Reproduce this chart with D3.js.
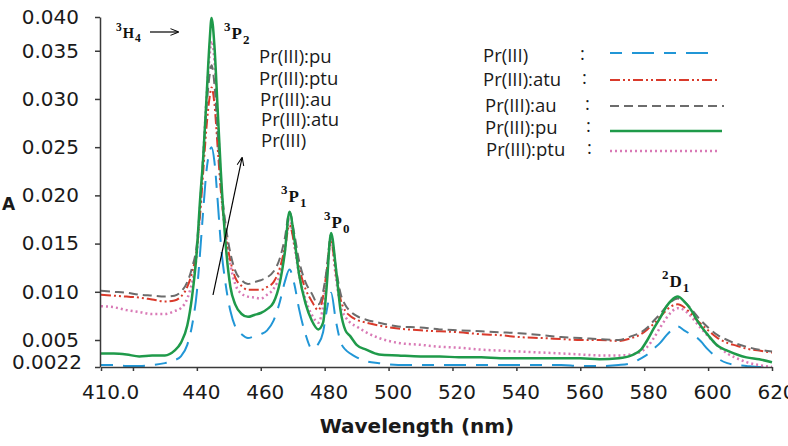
<!DOCTYPE html>
<html>
<head>
<meta charset="utf-8">
<script src="https://cdn.jsdelivr.net/npm/d3@7"></script>
<style>
  body { margin: 0; background: #fff; }
  svg { display: block; }
</style>
</head>
<body>
<div id="chart"></div>
<script>
// wavelength grid (nm) shared by all spectra
let wavelengths = [410, 414, 418, 422, 426, 430, 433, 435, 437, 438.5,
  440, 441, 442, 443, 444, 444.6, 445.5, 446.5, 447.5, 449,
  450.5, 452, 454, 456, 458, 460, 462, 464, 466, 467.5,
  469, 470.5, 472, 474, 476, 478, 479.5, 480.5, 482, 483.5,
  485, 486.5, 488, 490, 493, 497, 503, 510, 516, 522,
  529, 535, 541, 548, 554, 560, 566, 572, 576, 579,
  581, 583, 585, 587, 588.5, 590.5, 592.5, 594.5, 597, 600,
  603, 606, 609, 612, 616, 620]

let prIII = [0.0024, 0.0024, 0.0023, 0.0023, 0.0024, 0.0026, 0.0029, 0.0033, 0.0045, 0.0065,
  0.0100, 0.0140, 0.0185, 0.0225, 0.0246, 0.0250, 0.0235, 0.0195, 0.0150, 0.0108,
  0.0080, 0.0064, 0.0056, 0.0052, 0.0054, 0.0056, 0.0060, 0.0070, 0.0090, 0.0110,
  0.0123, 0.0108, 0.0082, 0.0056, 0.0041, 0.0046, 0.0058, 0.0078, 0.0099, 0.0070,
  0.0048, 0.0040, 0.0036, 0.0032, 0.0028, 0.0026, 0.0024, 0.0024, 0.0024, 0.0024,
  0.0024, 0.0024, 0.0024, 0.0024, 0.0024, 0.0023, 0.0023, 0.0024, 0.0026, 0.0031,
  0.0035, 0.0041, 0.0047, 0.0055, 0.0060, 0.0064, 0.0060, 0.0056, 0.0051, 0.0040,
  0.0031, 0.0026, 0.0024, 0.0023, 0.0022, 0.0022]

let prAtu = [0.0097, 0.0096, 0.0095, 0.0094, 0.0092, 0.0090, 0.0091, 0.0095, 0.0105, 0.0120,
  0.0145, 0.0180, 0.0225, 0.0270, 0.0302, 0.0312, 0.0295, 0.0250, 0.0205, 0.0160,
  0.0132, 0.0115, 0.0106, 0.0102, 0.0102, 0.0102, 0.0105, 0.0110, 0.0125, 0.0145,
  0.0169, 0.0150, 0.0125, 0.0103, 0.0090, 0.0081, 0.0095, 0.0118, 0.0152, 0.0120,
  0.0092, 0.0080, 0.0075, 0.0071, 0.0068, 0.0065, 0.0062, 0.0060, 0.0059, 0.0058,
  0.0056, 0.0055, 0.0053, 0.0052, 0.0051, 0.0050, 0.0050, 0.0049, 0.0052, 0.0056,
  0.0061, 0.0067, 0.0074, 0.0081, 0.0085, 0.0087, 0.0084, 0.0078, 0.0069, 0.0060,
  0.0052, 0.0047, 0.0044, 0.0041, 0.0039, 0.0037]

let prAu = [0.0101, 0.0100, 0.0099, 0.0097, 0.0096, 0.0095, 0.0096, 0.0100, 0.0110, 0.0125,
  0.0150, 0.0190, 0.0240, 0.0290, 0.0325, 0.0335, 0.0315, 0.0265, 0.0215, 0.0170,
  0.0140, 0.0122, 0.0112, 0.0108, 0.0110, 0.0112, 0.0115, 0.0121, 0.0135, 0.0155,
  0.0183, 0.0160, 0.0132, 0.0110, 0.0098, 0.0087, 0.0100, 0.0120, 0.0159, 0.0125,
  0.0098, 0.0086, 0.0080, 0.0075, 0.0071, 0.0068, 0.0064, 0.0063, 0.0061, 0.0060,
  0.0059, 0.0058, 0.0057, 0.0055, 0.0053, 0.0052, 0.0051, 0.0050, 0.0054, 0.0058,
  0.0063, 0.0070, 0.0077, 0.0085, 0.0090, 0.0093, 0.0090, 0.0083, 0.0073, 0.0063,
  0.0055, 0.0050, 0.0046, 0.0043, 0.0040, 0.0038]

let prPu = [0.0036, 0.0036, 0.0035, 0.0033, 0.0034, 0.0034, 0.0039, 0.0047, 0.0065, 0.0095,
  0.0143, 0.0195, 0.0240, 0.0300, 0.0360, 0.0384, 0.0355, 0.0290, 0.0225, 0.0150,
  0.0105, 0.0087, 0.0077, 0.0074, 0.0076, 0.0078, 0.0082, 0.0089, 0.0110, 0.0140,
  0.0183, 0.0155, 0.0118, 0.0088, 0.0070, 0.0061, 0.0068, 0.0100, 0.0161, 0.0125,
  0.0080, 0.0060, 0.0054, 0.0045, 0.0040, 0.0035, 0.0034, 0.0033, 0.0033, 0.0032,
  0.0032, 0.0031, 0.0031, 0.0031, 0.0031, 0.0031, 0.0030, 0.0031, 0.0034, 0.0040,
  0.0050, 0.0062, 0.0073, 0.0085, 0.0091, 0.0095, 0.0090, 0.0082, 0.0068, 0.0055,
  0.0044, 0.0039, 0.0035, 0.0032, 0.0030, 0.0027]

let prPtu = [0.0085, 0.0084, 0.0081, 0.0079, 0.0077, 0.0077, 0.0080, 0.0083, 0.0093, 0.0110,
  0.0140, 0.0185, 0.0240, 0.0300, 0.0345, 0.0360, 0.0340, 0.0280, 0.0215, 0.0160,
  0.0128, 0.0108, 0.0098, 0.0095, 0.0094, 0.0093, 0.0097, 0.0103, 0.0118, 0.0142,
  0.0175, 0.0148, 0.0118, 0.0092, 0.0076, 0.0068, 0.0085, 0.0112, 0.0154, 0.0115,
  0.0085, 0.0074, 0.0068, 0.0064, 0.0058, 0.0052, 0.0047, 0.0045, 0.0043, 0.0042,
  0.0040, 0.0039, 0.0038, 0.0037, 0.0036, 0.0035, 0.0034, 0.0034, 0.0035, 0.0038,
  0.0043, 0.0052, 0.0063, 0.0073, 0.0079, 0.0083, 0.0081, 0.0075, 0.0065, 0.0054,
  0.0044, 0.0036, 0.0031, 0.0027, 0.0024, 0.0022]

let seriesNames = ['Pr(III)', 'Pr(III):atu', 'Pr(III):au', 'Pr(III):pu', 'Pr(III):ptu']
let stackLabels = ['Pr(III):pu', 'Pr(III):ptu', 'Pr(III):au', 'Pr(III):atu', 'Pr(III)']

// the top tick of the original sits off the regular spacing, labelled 0.040
let yTickValues = [0.0022, 0.005, 0.010, 0.015, 0.020, 0.025, 0.030, 0.035, 0.0385]
let yTickLabels = ['0.0022', '0.005', '0.010', '0.015', '0.020', '0.025', '0.030', '0.035', '0.040']
let xTickValues = [410, 420, 440, 460, 480, 500, 520, 540, 560, 580, 600, 620]
let xTickLabels = ['410.0', '', '440', '460', '480', '500', '520', '540', '560', '580', '600', '620']

let width = 788
let height = 446
let axisColor = '#3a3a3a'
let tickFont = 'DejaVu Sans, sans-serif'
let noteFont = 'Open Sans, sans-serif'
let termFont = 'Liberation Serif, serif'

let styles = {
  'Pr(III)': { color: '#2196d6', dash: '12,10,22,10', width: 2 },
  'Pr(III):atu': { color: '#d93a2b', dash: '10,3,2,3,2,3', width: 2 },
  'Pr(III):au': { color: '#6c6c6c', dash: '9,5', width: 2 },
  'Pr(III):pu': { color: '#1f9a4a', dash: null, width: 2.5 },
  'Pr(III):ptu': { color: '#d97ab6', dash: '2,3', width: 2.5 }
}
let seriesValues = {
  'Pr(III)': prIII,
  'Pr(III):atu': prAtu,
  'Pr(III):au': prAu,
  'Pr(III):pu': prPu,
  'Pr(III):ptu': prPtu
}

let x = d3.scaleLinear().domain([410, 620]).range([101, 772])
let y = d3.scaleLinear().domain([0.0022, 0.0385]).range([367, 17])

let svg = d3.select('#chart').append('svg')
    .attr('width', width)
    .attr('height', height)
    .style('background', '#fff')

let defs = svg.append('defs')
defs.append('clipPath').attr('id', 'plot-clip')
  .append('rect')
    .attr('x', 101).attr('y', 10)
    .attr('width', 672).attr('height', 357)
defs.append('marker')
    .attr('id', 'arrow')
    .attr('viewBox', '0 0 10 10')
    .attr('refX', 9).attr('refY', 5)
    .attr('markerWidth', 7).attr('markerHeight', 7)
    .attr('orient', 'auto')
  .append('path')
    .attr('d', 'M0,1 L10,5 L0,9')
    .attr('fill', 'none')
    .attr('stroke', '#000')
    .attr('stroke-width', 1.2)

// spectra
let line = d3.line()
    .x((d, i) => x(wavelengths[i]))
    .y(d => y(d))
    .curve(d3.curveMonotoneX)

let drawOrder = ['Pr(III)', 'Pr(III):ptu', 'Pr(III):atu', 'Pr(III):au', 'Pr(III):pu']
let plot = svg.append('g').attr('clip-path', 'url(#plot-clip)')
drawOrder.forEach(name => {
  let s = styles[name]
  plot.append('path')
      .datum(seriesValues[name])
      .attr('d', line)
      .attr('fill', 'none')
      .attr('stroke', s.color)
      .attr('stroke-width', s.width)
      .attr('stroke-dasharray', s.dash)
      .attr('stroke-linejoin', 'round')
})

// axes
let yAxis = d3.axisLeft(y)
    .tickValues(yTickValues)
    .tickFormat((d, i) => yTickLabels[i])
    .tickSize(5)
    .tickSizeOuter(0)
    .tickPadding(16)
let yG = svg.append('g').attr('transform', 'translate(100,0)').call(yAxis)

let xAxis = d3.axisBottom(x)
    .tickValues(xTickValues)
    .tickFormat((d, i) => xTickLabels[i])
    .tickSize(4)
    .tickSizeOuter(0)
    .tickPadding(14)
let xG = svg.append('g').attr('transform', 'translate(0,367)').call(xAxis)

;[yG, xG].forEach(g => {
  g.select('.domain').attr('stroke', axisColor).attr('stroke-width', 1.5)
  g.selectAll('.tick line').attr('stroke', axisColor).attr('stroke-width', 1.5)
  g.selectAll('.tick text')
      .attr('fill', '#1a1a1a')
      .style('font-family', tickFont)
      .style('font-size', '20px')
})
yG.selectAll('.tick text').filter((d, i) => i === 0).attr('dy', '0.05em').attr('x', -18)
xG.selectAll('.tick text').attr('dx', 4)
xG.selectAll('.tick text').filter((d, i) => i === 0).attr('dx', 9)

// axis titles
svg.append('text')
    .attr('x', 2).attr('y', 210)
    .style('font-family', tickFont)
    .style('font-weight', 'bold')
    .style('font-size', '17px')
    .attr('fill', '#1a1a1a')
    .text('A')
svg.append('text')
    .attr('x', 417).attr('y', 433)
    .attr('text-anchor', 'middle')
    .style('font-family', tickFont)
    .style('font-weight', 'bold')
    .style('font-size', '20px')
    .attr('fill', '#1a1a1a')
    .text('Wavelength (nm)')

// term symbols over the bands
function term(xPos, yBase, sup, main, sub, size, smallSize) {
  let t = svg.append('text')
      .attr('x', xPos).attr('y', yBase)
      .style('font-family', termFont)
      .style('font-weight', 'bold')
      .attr('fill', '#111')
  t.append('tspan').attr('dy', -size * 0.5).style('font-size', smallSize + 'px').text(sup)
  t.append('tspan').attr('dy', size * 0.5).attr('dx', 1).style('font-size', size + 'px').text(main)
  t.append('tspan').attr('dy', size * 0.3).attr('dx', 1).style('font-size', smallSize + 'px').text(sub)
}
term(116, 38, '3', 'H', '4', 14.5, 11.5)
term(224, 39, '3', 'P', '2', 17, 13)
term(281, 202, '3', 'P', '1', 17, 13)
term(324, 228, '3', 'P', '0', 17, 13)
term(662, 287, '2', 'D', '1', 17, 13)

svg.append('line')
    .attr('x1', 150).attr('y1', 32).attr('x2', 178).attr('y2', 32)
    .attr('stroke', '#000').attr('stroke-width', 1.2)
    .attr('marker-end', 'url(#arrow)')
svg.append('line')
    .attr('x1', 213).attr('y1', 295).attr('x2', 242).attr('y2', 158)
    .attr('stroke', '#000').attr('stroke-width', 1.2)
    .attr('marker-end', 'url(#arrow)')

// order of peak heights, listed next to the arrow (one text block, tight lines)
let stackX = [259, 259, 260, 261, 261]
let stackY = [63, 85, 106, 126, 147]
let stack = svg.append('text')
    .style('font-family', noteFont)
    .style('font-size', '18.5px')
    .attr('fill', '#1a1a1a')
stackLabels.forEach((name, i) => {
  stack.append('tspan')
      .attr('x', stackX[i]).attr('y', stackY[i])
      .text(name)
})

// legend
let legendTextX = [483, 483, 485, 485, 486]
let legendColonX = [580, 582, 585, 586, 587]
let legendBase = [62, 86, 112, 134, 156]
let legendLineY = [53, 80, 106, 131, 151]
let legendLineEnd = [716, 720, 724, 722, 717]
let legendText = svg.append('text')
    .style('font-family', noteFont)
    .style('font-size', '18.5px')
    .attr('fill', '#1a1a1a')
let legendColons = svg.append('text')
    .style('font-family', noteFont)
    .style('font-size', '18.5px')
    .attr('fill', '#1a1a1a')
seriesNames.forEach((name, i) => {
  let s = styles[name]
  legendText.append('tspan')
      .attr('x', legendTextX[i]).attr('y', legendBase[i])
      .text(name)
  legendColons.append('tspan')
      .attr('x', legendColonX[i]).attr('y', legendBase[i] - 2)
      .text(':')
  svg.append('line')
      .attr('x1', 610).attr('x2', legendLineEnd[i])
      .attr('y1', legendLineY[i]).attr('y2', legendLineY[i])
      .attr('stroke', s.color)
      .attr('stroke-width', s.width)
      .attr('stroke-dasharray', s.dash)
})
</script>
</body>
</html>
